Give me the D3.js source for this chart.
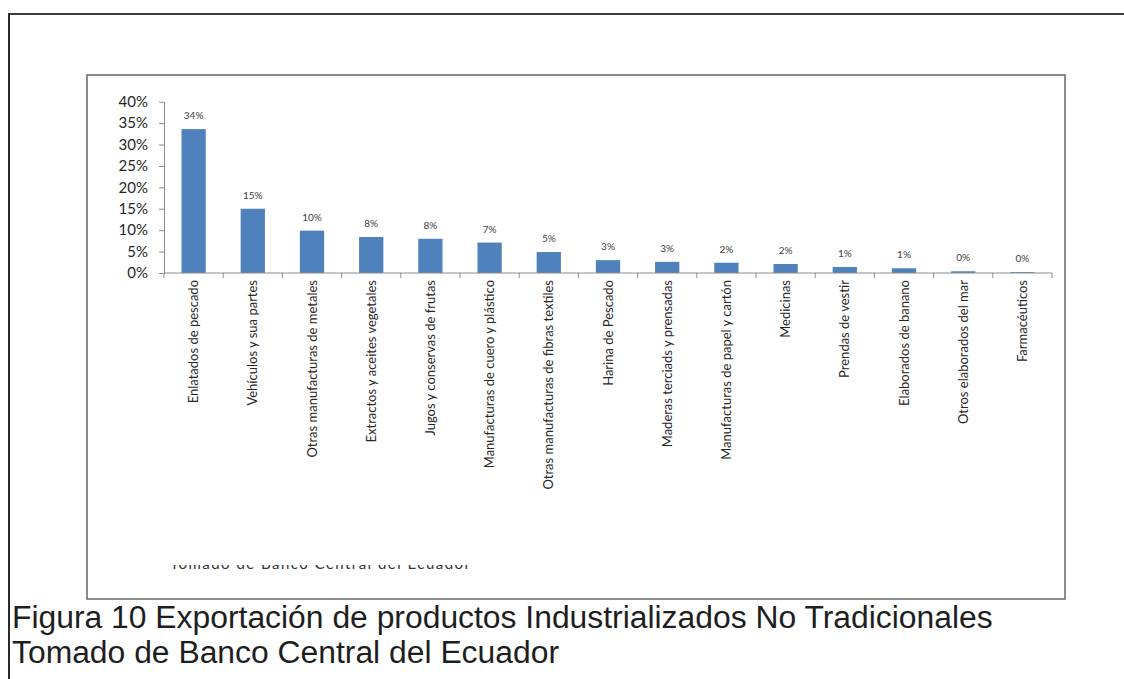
<!DOCTYPE html>
<html>
<head>
<meta charset="utf-8">
<script src="https://cdn.jsdelivr.net/npm/d3@7"></script>
<style>
  body { margin: 0; background: #fff; }
  svg { display: block; }
</style>
</head>
<body>
<div id="chart"></div>
<script>
// Exportación de productos industrializados no tradicionales

const categories = [
    "Enlatados de pescado",
    "Vehículos y sua partes",
    "Otras manufacturas de metales",
    "Extractos y aceites vegetales",
    "Jugos y conservas de frutas",
    "Manufacturas de cuero y plástico",
    "Otras manufacturas de fibras textiles",
    "Harina de Pescado",
    "Maderas terciads y prensadas",
    "Manufacturas de papel y cartón",
    "Medicinas",
    "Prendas de vestir",
    "Elaborados de banano",
    "Otros elaborados del mar",
    "Farmacéuticos"
];
const shares = [0.336, 0.150, 0.099, 0.084, 0.080, 0.071, 0.049, 0.030, 0.026, 0.024, 0.021, 0.014, 0.011, 0.004, 0.002];
const yTicks = [0, 0.05, 0.10, 0.15, 0.20, 0.25, 0.30, 0.35, 0.40];

const captionLines = [
    "Figura 10 Exportación de productos Industrializados No Tradicionales",
    "Tomado de Banco Central del Ecuador"
];
const sourceNote = "Tomado de Banco Central del Ecuador";

const width = 1124, height = 679;
const svg = d3.select("#chart").append("svg")
    .attr("width", width).attr("height", height);

// --- FRAMES ---
svg.append("line").attr("x1", 9).attr("y1", 14).attr("x2", width).attr("y2", 14)
    .attr("stroke", "#3c3c3c").attr("stroke-width", 2);
svg.append("line").attr("x1", 9).attr("y1", 13).attr("x2", 9).attr("y2", height)
    .attr("stroke", "#2a2a2a").attr("stroke-width", 2);
svg.append("rect").attr("x", 87).attr("y", 75).attr("width", 978).attr("height", 524)
    .attr("fill", "none").attr("stroke", "#666").attr("stroke-width", 1.5);

// --- SCALES ---
const plot = { left: 164, right: 1052, top: 101.7, bottom: 273 };
const x = d3.scaleBand().domain(categories).range([plot.left, plot.right])
    .paddingInner(0.59).paddingOuter(0.295);
const xCell = d3.scaleBand().domain(categories).range([plot.left, plot.right]).padding(0);
const y = d3.scaleLinear().domain([0, 0.4]).range([plot.bottom, plot.top]);
const pct = d3.format(".0%");

// --- Y AXIS ---
const yAxis = svg.append("g").attr("transform", `translate(${plot.left},0)`)
    .call(d3.axisLeft(y).tickValues(yTicks).tickFormat(pct).tickSize(5).tickSizeOuter(0).tickPadding(11));
yAxis.select(".domain").attr("stroke", "#8c8c8c");
yAxis.selectAll(".tick line").attr("stroke", "#8c8c8c");
yAxis.selectAll(".tick text").attr("font-family", "Lato, 'Open Sans', sans-serif")
    .attr("font-size", 15).attr("fill", "#262626");

// --- BARS ---
svg.append("g").selectAll("rect").data(categories).join("rect")
    .attr("x", d => x(d)).attr("width", x.bandwidth())
    .attr("y", (d, i) => y(shares[i]))
    .attr("height", (d, i) => y(0) - y(shares[i]))
    .attr("fill", "#4f81bd");

// data labels
svg.append("g").selectAll("text").data(categories).join("text")
    .attr("x", d => x(d) + x.bandwidth() / 2)
    .attr("y", (d, i) => y(shares[i]) - 10)
    .attr("text-anchor", "middle")
    .attr("font-family", "Lato, 'Open Sans', sans-serif").attr("font-size", 10)
    .attr("fill", "#404040")
    .text((d, i) => pct(shares[i]));

// --- X AXIS ---
const xAxis = svg.append("g");
xAxis.append("line").attr("x1", plot.left).attr("x2", plot.right)
    .attr("y1", y(0)).attr("y2", y(0)).attr("stroke", "#8c8c8c");
xAxis.selectAll("line.tick").data(categories.map(d => xCell(d)).concat([plot.right])).join("line")
    .attr("class", "tick")
    .attr("x1", d => d).attr("x2", d => d)
    .attr("y1", y(0)).attr("y2", y(0) + 5).attr("stroke", "#8c8c8c");

xAxis.selectAll("text").data(categories).join("text")
    .attr("transform", d => `translate(${x(d) + x.bandwidth() / 2},${y(0) + 7}) rotate(-90)`)
    .attr("text-anchor", "end").attr("dy", "0.35em")
    .attr("font-family", "Lato, 'Open Sans', sans-serif").attr("font-size", 13)
    .attr("fill", "#262626")
    .text(d => d);

// --- CLIPPED SOURCE NOTE (cut off at the top like the original) ---
svg.append("clipPath").attr("id", "noteClip")
    .append("rect").attr("x", 87).attr("y", 565).attr("width", 978).attr("height", 34);
svg.append("text").attr("clip-path", "url(#noteClip)")
    .attr("x", 170).attr("y", 569)
    .attr("font-family", "Lato, 'Open Sans', sans-serif").attr("font-size", 15)
    .attr("textLength", 300).attr("lengthAdjust", "spacing")
    .attr("fill", "#333")
    .text(sourceNote);

// --- CAPTION ---
const caption = svg.append("g").selectAll("text").data(captionLines).join("text")
    .attr("x", 12).attr("y", (d, i) => 628 + i * 35)
    .attr("font-family", "'Liberation Sans', Arial, sans-serif").attr("font-size", 27)
    .attr("fill", "#1e1e1e")
    .text(d => d);

// fit the first caption line to its width in the original
const w0 = caption.node().getComputedTextLength();
caption.attr("font-size", 27 * 981 / w0);
</script>
</body>
</html>
